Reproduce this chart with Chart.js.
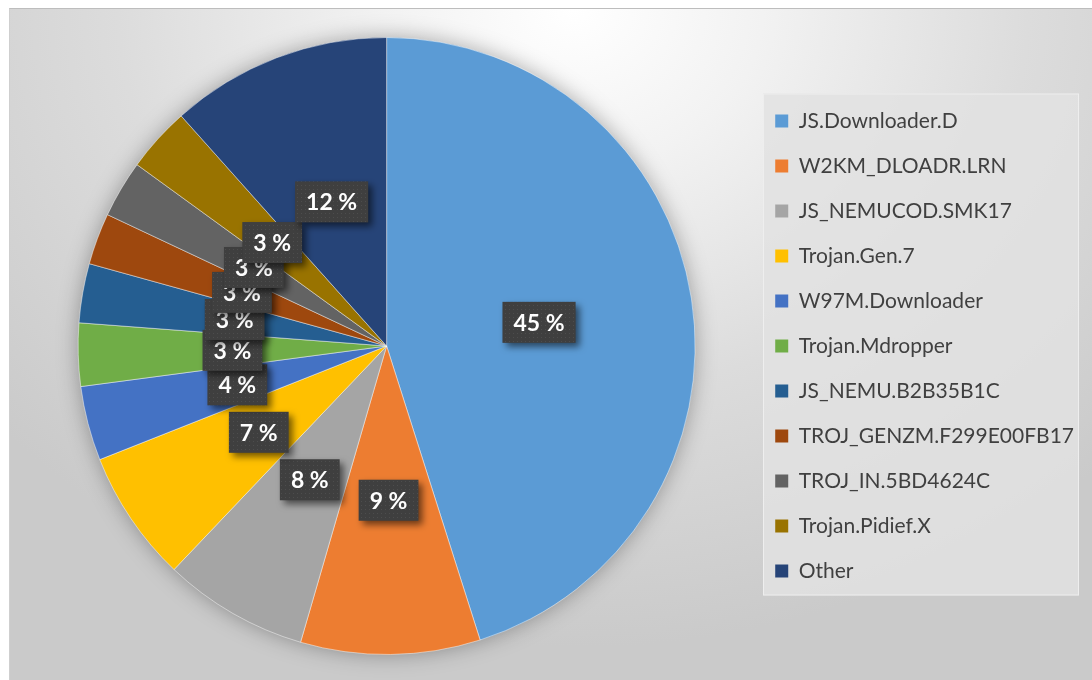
<!DOCTYPE html>
<html>
<head>
<meta charset="utf-8">
<script src="https://cdn.jsdelivr.net/npm/chart.js@4"></script>
<style>
body{margin:0;background:#fff;}
#marco{position:absolute;left:9px;top:8px;width:1083px;height:672px;
  border-top:1px solid #bdbdbd;border-left:1px solid #cfcfcf;
  background:radial-gradient(ellipse 70% 95% at 52% 0%, #ffffff 0%, #f2f2f2 25%, #dcdcdc 60%, #cacaca 100%);}
#grafico{position:absolute;left:0;top:0;}
</style>
</head>
<body>
<div id="marco"></div>
<canvas id="grafico" width="1092" height="680"></canvas>
<script>
// datos
var familias = ['JS.Downloader.D','W2KM_DLOADR.LRN','JS_NEMUCOD.SMK17','Trojan.Gen.7','W97M.Downloader',
                'Trojan.Mdropper','JS_NEMU.B2B35B1C','TROJ_GENZM.F299E00FB17','TROJ_IN.5BD4624C','Trojan.Pidief.X','Other'];
var porcentajes = [45.1, 9.4, 7.6, 6.9, 3.9, 3.3, 3.1, 2.7, 3.0, 3.4, 11.6];
var colores = ['#5B9BD5','#ED7D31','#A5A5A5','#FFC000','#4472C4','#70AD47','#255E91','#9E480E','#636363','#997300','#264478'];

// patron punteado para las etiquetas
var pat = document.createElement('canvas');
pat.width = 4; pat.height = 4;
var pctx = pat.getContext('2d');
pctx.fillStyle = '#3f3f3f';
pctx.fillRect(0,0,4,4);
pctx.fillStyle = '#4d4d4d';
pctx.fillRect(1,1,1,1);

var fondoLeyenda = {
    id: 'fondoLeyenda',
    beforeDraw: function(chart){
        var cajas = chart.legend.legendHitBoxes;
        if(!cajas || !cajas.length) return;
        var ctx = chart.ctx;
        var x1 = 763;
        var y1 = cajas[0].top - 17;
        var ult = cajas[cajas.length-1];
        var x2 = 1079;
        var y2 = ult.top + ult.height + 14;
        ctx.save();
        ctx.fillStyle = 'rgba(226,226,226,0.85)';
        ctx.fillRect(x1, y1, x2-x1, y2-y1);
        ctx.strokeStyle = 'rgba(240,240,240,0.9)';
        ctx.lineWidth = 1;
        ctx.strokeRect(x1+0.5, y1+0.5, x2-x1-1, y2-y1-1);
        ctx.restore();
    },
    beforeDatasetsDraw: function(chart){
        var arc = chart.getDatasetMeta(0).data[0];
        if(!arc) return;
        var ctx = chart.ctx;
        ctx.save();
        ctx.shadowColor = 'rgba(0,0,0,0.35)';
        ctx.shadowBlur = 22;
        ctx.fillStyle = '#999';
        ctx.beginPath();
        ctx.arc(arc.x, arc.y, arc.outerRadius - 1, 0, Math.PI*2);
        ctx.fill();
        ctx.restore();
    }
};

var etiquetas = {
    id: 'etiquetas',
    afterDatasetsDraw: function(chart){
        var ctx = chart.ctx;
        var meta = chart.getDatasetMeta(0);
        var total = porcentajes.reduce(function(a,b){return a+b;},0);
        ctx.save();
        ctx.font = 'bold 23px Lato';
        ctx.textAlign = 'center';
        ctx.textBaseline = 'middle';
        meta.data.forEach(function(arc, i){
            var p = arc.tooltipPosition();
            var txt = Math.round(porcentajes[i]/total*100) + ' %';
            var w = ctx.measureText(txt).width + 22;
            var h = 41;
            ctx.save();
            ctx.shadowColor = 'rgba(0,0,0,0.55)';
            ctx.shadowBlur = 7;
            ctx.shadowOffsetX = 4;
            ctx.shadowOffsetY = 4;
            ctx.fillStyle = ctx.createPattern(pat, 'repeat');
            ctx.fillRect(p.x - w/2, p.y - h/2, w, h);
            ctx.restore();
            ctx.fillStyle = '#ffffff';
            ctx.fillText(txt, p.x, p.y + 1);
        });
        ctx.restore();
    }
};

var datos = {
    labels: familias,
    datasets: [{
        data: porcentajes,
        backgroundColor: colores,
        borderColor: 'rgba(255,255,255,0.45)',
        borderWidth: 1
    }]
};

var grafica = new Chart(document.getElementById('grafico'), {
    type: 'pie',
    data: datos,
    options: {
        responsive: false,
        animation: false,
        layout: { padding: { left: 22, right: 8, top: 37, bottom: 25 } },
        plugins: {
            legend: {
                position: 'right',
                labels: {
                    boxWidth: 13,
                    boxHeight: 13,
                    padding: 24,
                    color: '#404040',
                    font: { family: 'Lato', size: 21 },
                    generateLabels: function(chart){
                        var items = Chart.overrides.pie.plugins.legend.labels.generateLabels(chart);
                        items.forEach(function(it){ it.lineWidth = 0; it.strokeStyle = 'rgba(0,0,0,0)'; });
                        return items;
                    }
                }
            },
            tooltip: { enabled: false }
        }
    },
    plugins: [fondoLeyenda, etiquetas]
});
</script>
</body>
</html>
